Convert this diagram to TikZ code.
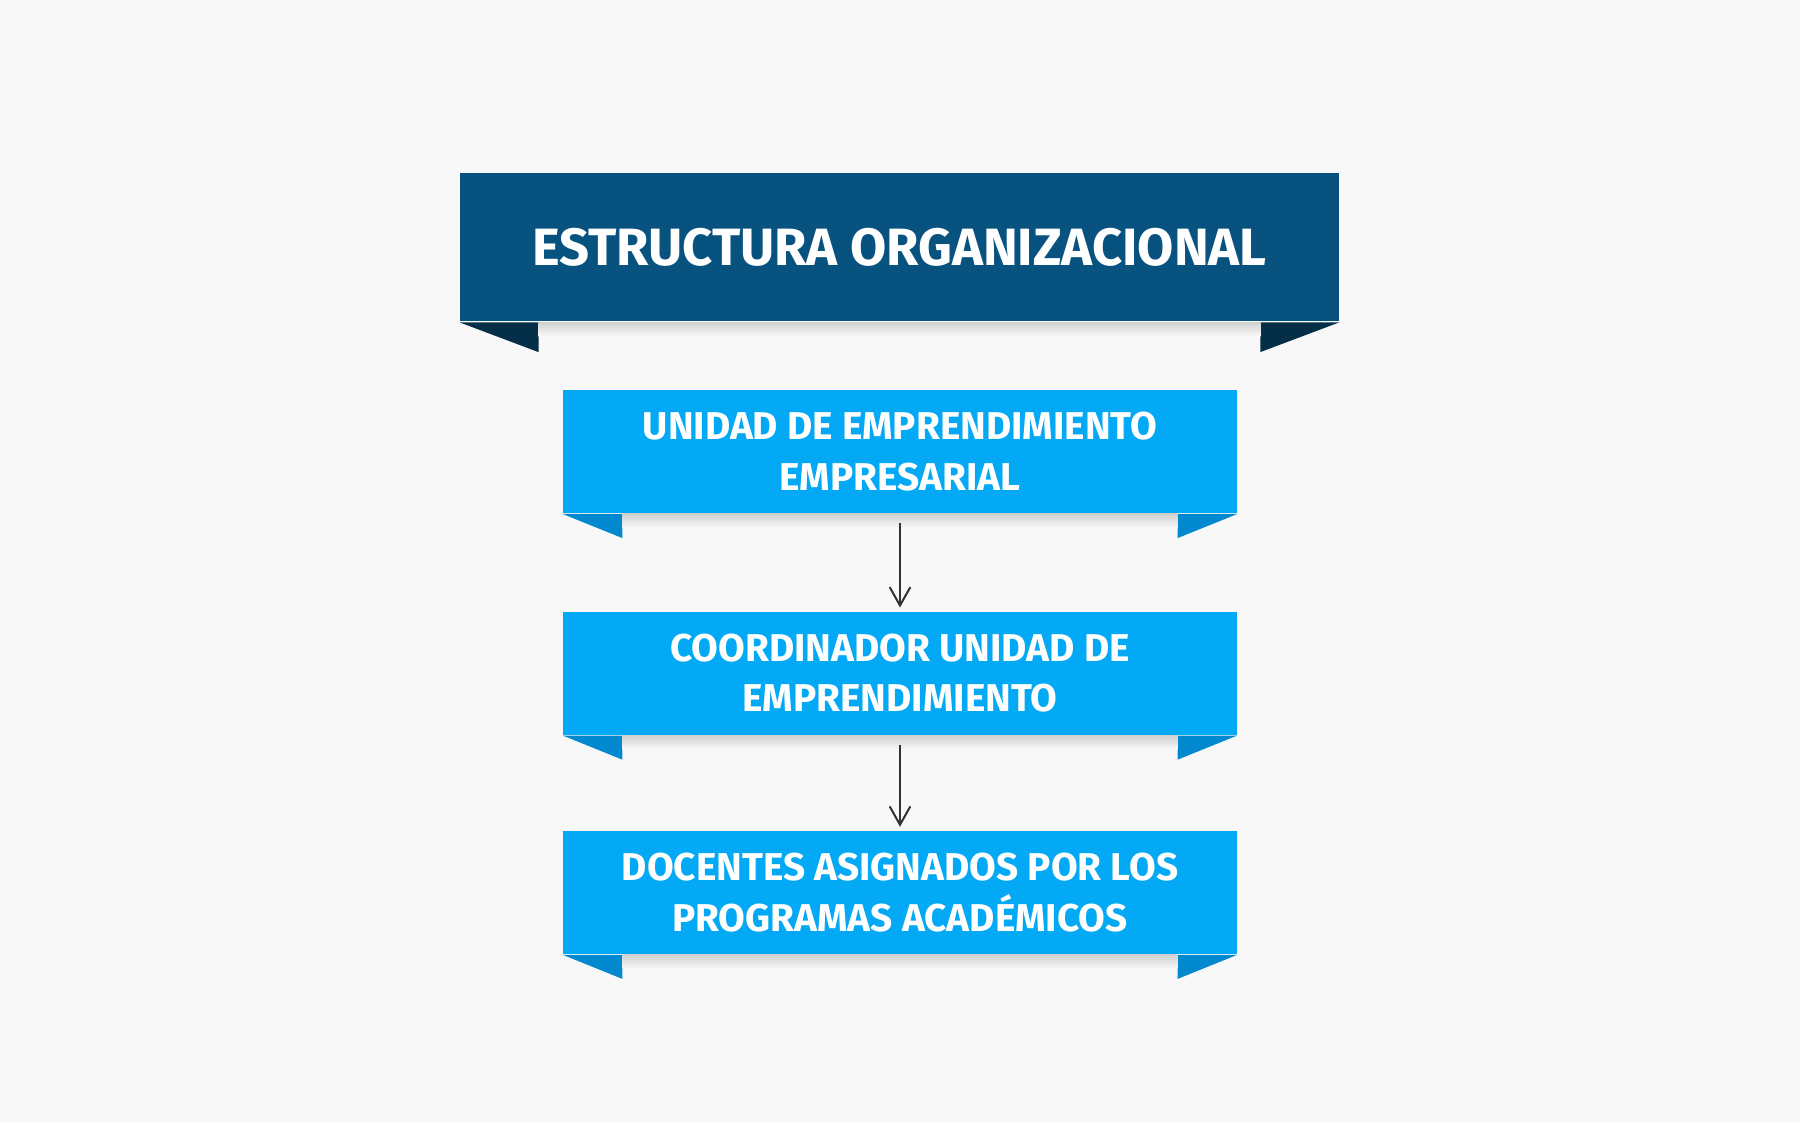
\documentclass[tikz,border=0pt]{standalone}
\usepackage{fontspec}
\setmainfont{Fira Sans}
\usetikzlibrary{arrows.meta,positioning}
\definecolor{bgcol}{HTML}{F8F8F8}
\definecolor{titlecol}{HTML}{08527F}
\definecolor{titlefold}{HTML}{052F48}
\definecolor{boxcol}{HTML}{03A9F4}
\definecolor{boxfold}{HTML}{0288CF}
\definecolor{linkcol}{HTML}{333333}
\tikzset{
  titlebox/.style={fill=titlecol,text=white,font=\bfseries\fontsize{13}{15}\selectfont,
    minimum width=7.65cm,minimum height=1.29cm,inner sep=0pt},
  unitbox/.style={fill=boxcol,text=white,font=\bfseries\fontsize{9.6}{12.5}\selectfont,
    minimum width=5.86cm,minimum height=1.07cm,inner sep=0pt,align=center},
  link/.style={-{Straight Barb[length=1.6mm,width=1.8mm]},linkcol,line width=0.5pt,
    shorten <=0.08cm,shorten >=0.03cm}
}
% folds of a ribbon below node #1: width of fold #2, depth #3, colour #4
\newcommand{\ribbonfolds}[4]{%
  \fill[#4] (#1.south west) -- ++(#2,0) -- ++(0,-#3) -- cycle;
  \fill[#4] (#1.south east) -- ++(-#2,0) -- ++(0,-#3) -- cycle;
  \shade[top color=black!18,bottom color=bgcol] ([xshift=#2]#1.south west) rectangle ([xshift=-#2,yshift=-0.12cm]#1.south east);
}
\begin{document}
\begin{tikzpicture}[x=0.01cm,y=0.01cm]
  \fill[bgcol] (0,0) rectangle (1568,-977);
  \useasboundingbox (0,0) rectangle (1568,-977);

  % title banner
  \node[titlebox] (titel) at (783.5,-215.5) {ESTRUCTURA ORGANIZACIONAL};
  \ribbonfolds{titel}{0.69cm}{0.26cm}{titlefold}

  % units
  \node[unitbox] (unidad) at (784,-393.5) {UNIDAD DE EMPRENDIMIENTO\\EMPRESARIAL};
  \node[unitbox] (coord) at (784,-586.5) {COORDINADOR UNIDAD DE\\EMPRENDIMIENTO};
  \node[unitbox] (docentes) at (784,-777.5) {DOCENTES ASIGNADOS POR LOS\\PROGRAMAS ACADÉMICOS};
  \ribbonfolds{unidad}{0.52cm}{0.21cm}{boxfold}
  \ribbonfolds{coord}{0.52cm}{0.21cm}{boxfold}
  \ribbonfolds{docentes}{0.52cm}{0.21cm}{boxfold}

  \draw[link] (unidad) -- (coord);
  \draw[link] (coord) -- (docentes);
\end{tikzpicture}
\end{document}
